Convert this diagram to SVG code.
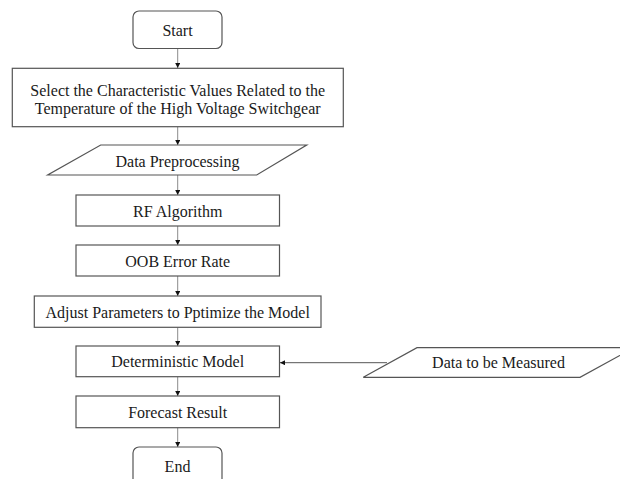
<svg xmlns="http://www.w3.org/2000/svg" width="620" height="479" viewBox="0 0 620 479">
  <style>
    .box { fill: #ffffff; stroke: #555555; stroke-width: 1.2; }
    .lbl { font-family: "Liberation Serif", "Times New Roman", serif; font-size: 16px; fill: #1a1a1a; text-anchor: middle; }
    .flow { stroke: #8c8c8c; stroke-width: 1; fill: none; marker-end: url(#head); }
    .feed { stroke: #555555; stroke-width: 1; fill: none; marker-end: url(#head); }
  </style>
  <defs>
    <marker id="head" viewBox="0 0 10 10" refX="10" refY="5" markerWidth="5" markerHeight="5" markerUnits="userSpaceOnUse" orient="auto">
      <path d="M0,0 L10,5 L0,10 Z" fill="#111111"/>
    </marker>
  </defs>
  <rect width="620" height="479" fill="#ffffff"/>

  <g id="connectors">
    <line class="flow" x1="177.7" y1="48.5" x2="177.7" y2="68"/>
    <line class="flow" x1="177.7" y1="126.7" x2="177.7" y2="145"/>
    <line class="flow" x1="177.7" y1="175" x2="177.7" y2="195"/>
    <line class="flow" x1="177.7" y1="226" x2="177.7" y2="245"/>
    <line class="flow" x1="177.7" y1="276" x2="177.7" y2="296"/>
    <line class="flow" x1="177.7" y1="327.3" x2="177.7" y2="346"/>
    <line class="flow" x1="177.7" y1="376.7" x2="177.7" y2="396"/>
    <line class="flow" x1="177.7" y1="427.7" x2="177.7" y2="447"/>
    <line class="feed" x1="387" y1="362.7" x2="280" y2="362.7"/>
  </g>

  <g id="start">
    <rect class="box" x="133" y="11" width="89" height="37.5" rx="6"/>
    <text class="lbl" x="177.5" y="36">Start</text>
  </g>

  <g id="select">
    <rect class="box" x="12.3" y="68.3" width="331" height="58.4"/>
    <text class="lbl" x="177.7" y="95.5">Select the Characteristic Values Related to the</text>
    <text class="lbl" x="177.7" y="114">Temperature of the High Voltage Switchgear</text>
  </g>

  <g id="preprocess">
    <polygon class="box" points="100.7,145 306.7,145 256.7,175 47.7,175"/>
    <text class="lbl" x="177.5" y="166.5">Data Preprocessing</text>
  </g>

  <g id="rf">
    <rect class="box" x="76" y="195" width="203.5" height="31"/>
    <text class="lbl" x="177.7" y="216.5">RF Algorithm</text>
  </g>

  <g id="oob">
    <rect class="box" x="76" y="245" width="203.5" height="31"/>
    <text class="lbl" x="177.7" y="266.5">OOB Error Rate</text>
  </g>

  <g id="adjust">
    <rect class="box" x="34.3" y="296" width="286.7" height="31.3"/>
    <text class="lbl" x="177.7" y="318">Adjust Parameters to Pptimize the Model</text>
  </g>

  <g id="model">
    <rect class="box" x="76" y="346" width="203.5" height="30.7"/>
    <text class="lbl" x="177.7" y="367">Deterministic Model</text>
  </g>

  <g id="measured">
    <polygon class="box" points="417,347.7 634,347.7 580,377.3 363.3,377.3"/>
    <text class="lbl" x="498.5" y="367.5">Data to be Measured</text>
  </g>

  <g id="forecast">
    <rect class="box" x="76" y="396" width="203.5" height="31.7"/>
    <text class="lbl" x="177.7" y="417.5">Forecast Result</text>
  </g>

  <g id="end">
    <rect class="box" x="133" y="447" width="89" height="40" rx="6"/>
    <text class="lbl" x="177.5" y="471.5">End</text>
  </g>
</svg>
